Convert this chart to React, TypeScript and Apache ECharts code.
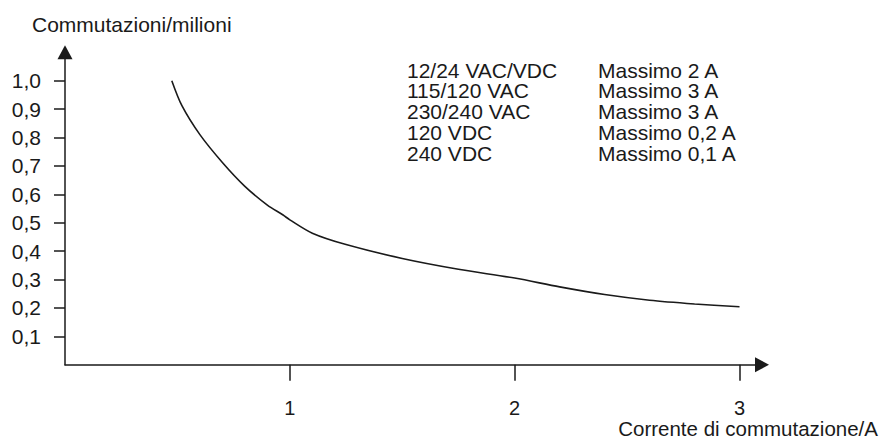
import React, { useEffect, useRef } from "react";
import * as echarts from "echarts";

const curveX = [0.475, 0.52, 0.6, 0.7, 0.8, 0.9, 0.97, 1.0, 1.1, 1.25, 1.5, 1.75, 2.0, 2.2, 2.4, 2.6, 2.8, 3.0];
const curveY = [1.0, 0.912, 0.81, 0.712, 0.628, 0.562, 0.527, 0.51, 0.463, 0.423, 0.374, 0.336, 0.305, 0.274, 0.247, 0.227, 0.214, 0.204];
const xTicks = [1, 2, 3];
const yTicks = [0.1, 0.2, 0.3, 0.4, 0.5, 0.6, 0.7, 0.8, 0.9, 1.0];
const voltages = ["12/24 VAC/VDC", "115/120 VAC", "230/240 VAC", "120 VDC", "240 VDC"];
const maxima = ["Massimo 2 A", "Massimo 3 A", "Massimo 3 A", "Massimo 0,2 A", "Massimo 0,1 A"];
const yName = "Commutazioni/milioni";
const xName = "Corrente di commutazione/A";

const FONT = '"Liberation Sans", Arial, sans-serif';
const INK = "#1a1a1a";

export default function App() {
  const ref = useRef<HTMLDivElement>(null);
  useEffect(() => {
    if (!ref.current) return;
    const chart = echarts.init(ref.current, null, { renderer: "svg" });
    const rowY0 = 70;
    const rowStep = 20.9;
    const graphics: any[] = [];
    const txt = (text: string, x: number, y: number, align: string, size = 21) => ({
      type: "text",
      x,
      y,
      style: { text, fill: INK, font: `${size}px ${FONT}`, lineHeight: 18, align, verticalAlign: "middle", textAlign: align, textVerticalAlign: "middle" },
    });
    voltages.forEach((v, i) => {
      graphics.push(txt(v, 407, rowY0 + i * rowStep, "left"));
      graphics.push(txt(maxima[i], 598, rowY0 + i * rowStep, "left"));
    });
    graphics.push(txt(yName, 32, 24, "left"));
    graphics.push(txt(xName, 878, 428, "right", 20.5));

    chart.setOption({
      animation: false,
      grid: { left: 65, right: 118, top: 52.3, bottom: 83.3, containLabel: false },
      xAxis: {
        type: "value",
        min: 0,
        max: 3.1,
        splitLine: { show: false },
        axisLine: { show: true, onZero: false, symbol: ["none", "triangle"], symbolSize: [15, 14], lineStyle: { color: INK, width: 1.5 } },
        axisTick: { show: true, length: 16, customValues: xTicks, lineStyle: { color: INK, width: 1.5 } },
        axisLabel: { customValues: xTicks, margin: 34, lineHeight: 18, color: INK, fontSize: 20, fontFamily: FONT, formatter: (v: number) => String(v) },
      },
      yAxis: {
        type: "value",
        min: 0,
        max: 1.1,
        splitLine: { show: false },
        axisLine: { show: true, onZero: false, symbol: ["none", "triangle"], symbolSize: [15, 14], lineStyle: { color: INK, width: 1.5 } },
        axisTick: { show: true, length: 11, customValues: yTicks, lineStyle: { color: INK, width: 1.5 } },
        axisLabel: { customValues: yTicks, margin: 24, color: INK, fontSize: 21, fontFamily: FONT, formatter: (v: number) => v.toFixed(1).replace(".", ",") },
      },
      graphic: graphics,
      series: [
        {
          type: "line",
          data: curveX.map((x, i) => [x, curveY[i]]),
          smooth: 0.3,
          showSymbol: false,
          symbol: "none",
          lineStyle: { color: INK, width: 1.6 },
          silent: true,
        },
      ],
    });
    return () => chart.dispose();
  }, []);
  return <div ref={ref} style={{ position: "fixed", left: 0, top: 0, width: 880, height: 448, background: "#fff" }} />;
}
